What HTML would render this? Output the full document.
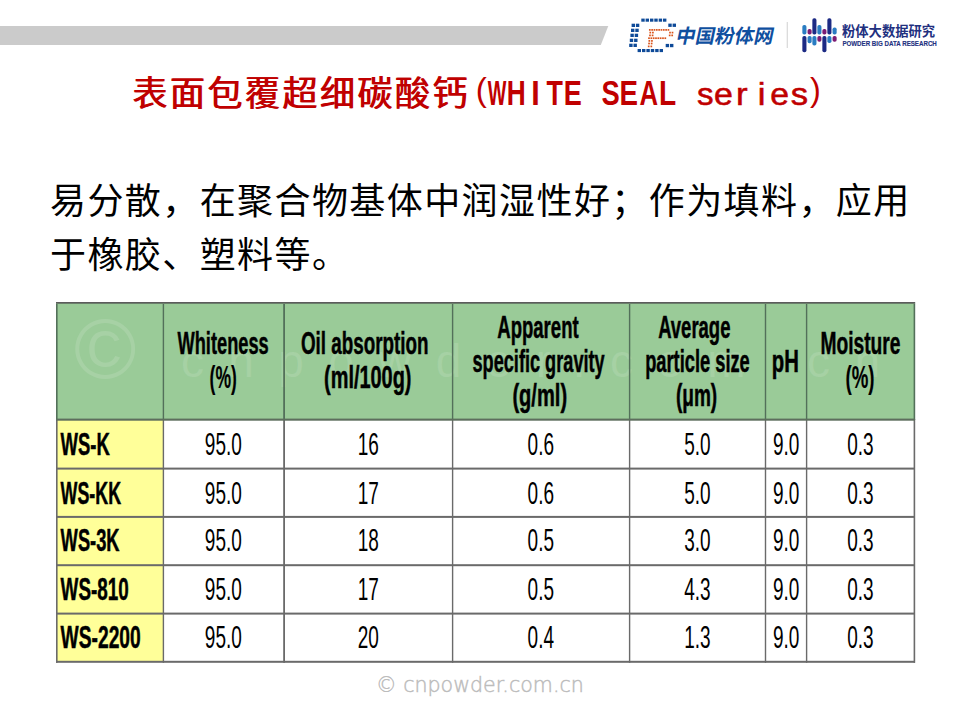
<!DOCTYPE html>
<html lang="zh-CN">
<head>
<meta charset="utf-8">
<title>表面包覆超细碳酸钙(WHITE SEAL series)</title>
<style>
html,body{margin:0;padding:0;background:#fff;}
body{width:960px;height:720px;overflow:hidden;position:relative;}
svg{position:absolute;left:0;top:0;overflow:visible;}
.body{position:absolute;left:50px;top:174.5px;width:900px;font-family:"Liberation Sans","Noto Sans CJK SC",sans-serif;font-size:36px;letter-spacing:1.42px;line-height:54.4px;color:#000;white-space:nowrap;}
.tcjk{position:absolute;left:132px;top:68.67px;font-family:"Liberation Sans","Noto Sans CJK SC",sans-serif;font-size:35px;font-weight:400;letter-spacing:2.5px;line-height:50px;color:#c00000;text-shadow:1.1px 0 0 #c00000;white-space:nowrap;}
.tlat{position:absolute;left:469.15px;top:72.92px;height:40.0px;white-space:nowrap;font-family:"Liberation Sans",sans-serif;font-size:34.86px;font-weight:700;line-height:40.0px;color:#c00000;}
.tlat .g{display:inline-block;width:18.9px;text-align:left;white-space:pre;transform-origin:0 32.08px;}
.tbl text{font-family:"Liberation Sans",Arial,sans-serif;}
</style>
</head>
<body>

<!-- top bar + logos -->
<svg width="960" height="60" viewBox="0 0 960 60">
  <polygon points="0,26 608.3,26 600.8,45 0,45" fill="#cbcbcb"/>
  <rect x="641.3" y="18.6" width="3.4" height="3.1" fill="#0e4a98"/>
  <rect x="645.6" y="18.6" width="3.4" height="3.1" fill="#0e4a98"/>
  <rect x="650.0" y="18.6" width="3.4" height="3.1" fill="#0e4a98"/>
  <rect x="654.3" y="18.6" width="3.4" height="3.1" fill="#0e4a98"/>
  <rect x="658.7" y="18.6" width="3.4" height="3.1" fill="#0e4a98"/>
  <rect x="663.0" y="18.6" width="3.4" height="3.1" fill="#0e4a98"/>
  <rect x="637.6" y="49.0" width="3.4" height="3.1" fill="#0e4a98"/>
  <rect x="642.0" y="49.0" width="3.4" height="3.1" fill="#0e4a98"/>
  <rect x="646.4" y="49.0" width="3.4" height="3.1" fill="#0e4a98"/>
  <rect x="650.8" y="49.0" width="3.4" height="3.1" fill="#0e4a98"/>
  <rect x="655.2" y="49.0" width="3.4" height="3.1" fill="#0e4a98"/>
  <rect x="659.6" y="49.0" width="3.4" height="3.1" fill="#0e4a98"/>
  <rect x="631.6" y="23.7" width="3.4" height="3.3" fill="#0e4a98"/>
  <rect x="635.9" y="23.7" width="3.4" height="3.3" fill="#0e4a98"/>
  <rect x="631.0" y="28.7" width="3.4" height="3.3" fill="#0e4a98"/>
  <rect x="635.3" y="28.7" width="3.4" height="3.3" fill="#0e4a98"/>
  <rect x="630.4" y="33.7" width="3.4" height="3.3" fill="#0e4a98"/>
  <rect x="634.7" y="33.7" width="3.4" height="3.3" fill="#0e4a98"/>
  <rect x="629.8" y="38.7" width="3.4" height="3.3" fill="#0e4a98"/>
  <rect x="634.1" y="38.7" width="3.4" height="3.3" fill="#0e4a98"/>
  <rect x="629.2" y="43.7" width="3.4" height="3.3" fill="#0e4a98"/>
  <rect x="633.5" y="43.7" width="3.4" height="3.3" fill="#0e4a98"/>
  <rect x="668.3" y="23.6" width="3.4" height="3.3" fill="#0e4a98"/>
  <rect x="672.6" y="23.6" width="3.4" height="3.3" fill="#0e4a98"/>
  <rect x="665.7" y="43.9" width="3.4" height="3.3" fill="#0e4a98"/>
  <rect x="670.0" y="43.9" width="3.4" height="3.3" fill="#0e4a98"/>
  <rect x="648.95" y="29.05" width="1.7" height="1.7" fill="#d9531a"/>
  <rect x="651.28" y="29.05" width="1.7" height="1.7" fill="#d9531a"/>
  <rect x="653.61" y="29.05" width="1.7" height="1.7" fill="#d9531a"/>
  <rect x="655.94" y="29.05" width="1.7" height="1.7" fill="#d9531a"/>
  <rect x="658.27" y="29.05" width="1.7" height="1.7" fill="#d9531a"/>
  <rect x="660.60" y="29.05" width="1.7" height="1.7" fill="#d9531a"/>
  <rect x="662.93" y="29.05" width="1.7" height="1.7" fill="#d9531a"/>
  <rect x="665.26" y="29.05" width="1.7" height="1.7" fill="#d9531a"/>
  <rect x="667.59" y="29.05" width="1.7" height="1.7" fill="#d9531a"/>
  <rect x="648.15" y="37.35" width="1.7" height="1.7" fill="#d9531a"/>
  <rect x="650.48" y="37.35" width="1.7" height="1.7" fill="#d9531a"/>
  <rect x="652.81" y="37.35" width="1.7" height="1.7" fill="#d9531a"/>
  <rect x="655.14" y="37.35" width="1.7" height="1.7" fill="#d9531a"/>
  <rect x="657.47" y="37.35" width="1.7" height="1.7" fill="#d9531a"/>
  <rect x="659.80" y="37.35" width="1.7" height="1.7" fill="#d9531a"/>
  <rect x="662.13" y="37.35" width="1.7" height="1.7" fill="#d9531a"/>
  <rect x="664.46" y="37.35" width="1.7" height="1.7" fill="#d9531a"/>
  <rect x="649.45" y="31.75" width="1.7" height="1.7" fill="#d9531a"/>
  <rect x="652.05" y="31.75" width="1.7" height="1.7" fill="#d9531a"/>
  <rect x="649.13" y="34.55" width="1.7" height="1.7" fill="#d9531a"/>
  <rect x="651.73" y="34.55" width="1.7" height="1.7" fill="#d9531a"/>
  <rect x="648.49" y="40.05" width="1.7" height="1.7" fill="#d9531a"/>
  <rect x="651.09" y="40.05" width="1.7" height="1.7" fill="#d9531a"/>
  <rect x="648.19" y="42.65" width="1.7" height="1.7" fill="#d9531a"/>
  <rect x="650.79" y="42.65" width="1.7" height="1.7" fill="#d9531a"/>
  <rect x="647.85" y="45.55" width="1.7" height="1.7" fill="#d9531a"/>
  <rect x="650.45" y="45.55" width="1.7" height="1.7" fill="#d9531a"/>
  <rect x="669.15" y="31.75" width="1.7" height="1.7" fill="#d9531a"/>
  <rect x="671.65" y="31.75" width="1.7" height="1.7" fill="#d9531a"/>
  <rect x="668.83" y="34.55" width="1.7" height="1.7" fill="#d9531a"/>
  <rect x="671.33" y="34.55" width="1.7" height="1.7" fill="#d9531a"/>
  <text x="675" y="43" font-family="Liberation Sans, Noto Sans CJK SC, sans-serif" font-weight="bold" font-size="19.5" fill="#0f4f9f" transform="translate(675,43) skewX(-12) translate(-675,-43)">中国粉体网</text>
  <line x1="787.3" y1="22" x2="787.3" y2="48" stroke="#d8d8d8" stroke-width="1.2"/>
  <rect x="802.35" y="25" width="4.1" height="9.5" rx="1.8" fill="#2a7cc2"/>
  <rect x="802.35" y="36.0" width="4.1" height="16.2" rx="1.8" fill="#1c2a84"/>
  <rect x="807.55" y="28.9" width="4.1" height="5.6" rx="1.8" fill="#7c1c74"/>
  <rect x="807.55" y="36.0" width="4.1" height="7.3" rx="1.8" fill="#2a7cc2"/>
  <rect x="812.35" y="18.3" width="4.1" height="16.2" rx="1.8" fill="#1c2a84"/>
  <rect x="812.35" y="36.0" width="4.1" height="9.6" rx="1.8" fill="#2a7cc2"/>
  <rect x="817.35" y="25" width="4.1" height="9.5" rx="1.8" fill="#2a7cc2"/>
  <rect x="817.35" y="36.0" width="4.1" height="5.7" rx="1.8" fill="#7c1c74"/>
  <rect x="822.35" y="28.9" width="4.1" height="5.6" rx="1.8" fill="#7c1c74"/>
  <rect x="822.35" y="36.0" width="4.1" height="16.2" rx="1.8" fill="#1c2a84"/>
  <rect x="827.35" y="18.3" width="4.1" height="16.2" rx="1.8" fill="#1c2a84"/>
  <rect x="827.35" y="36.0" width="4.1" height="7.0" rx="1.8" fill="#2a7cc2"/>
  <rect x="832.55" y="27.5" width="4.1" height="7.0" rx="1.8" fill="#2a7cc2"/>
  <rect x="832.55" y="36.0" width="4.1" height="5.7" rx="1.8" fill="#7c1c74"/>
  <text x="842" y="36.3" font-family="Liberation Sans, Noto Sans CJK SC, sans-serif" font-weight="bold" font-size="13.3" fill="#22307f">粉体大数据研究</text>
  <text x="842.4" y="46.4" font-family="Liberation Sans, sans-serif" font-weight="bold" font-size="6.5" fill="#22307f" stroke="#22307f" stroke-width="0.12" textLength="94.4" lengthAdjust="spacingAndGlyphs">POWDER BIG DATA RESEARCH</text>
</svg>

<div class="tcjk">表面包覆超细碳酸钙</div>
<div class="tlat"><span class="g" style="font-weight:400;font-size:33.19px;transform-origin:0 31.50px;transform:translate(6.53px,-3.57px) scale(1.000,1)">(</span><span class="g" style="transform:translateX(-0.25px) scale(0.565,1.000)">W</span><span class="g" style="transform:translateX(-0.33px) scale(0.755,1.000)">H</span><span class="g" style="transform:translateX(5.21px) scale(0.879,1.000)">I</span><span class="g" style="transform:translateX(1.58px) scale(0.770,1.000)">T</span><span class="g" style="transform:translateX(-0.27px) scale(0.775,1.000)">E</span><span class="g sp"> </span><span class="g" style="transform:translateX(0.40px) scale(0.785,1.000)">S</span><span class="g" style="transform:translateX(-0.41px) scale(0.795,1.000)">E</span><span class="g" style="transform:translateX(0.54px) scale(0.738,1.000)">A</span><span class="g" style="transform:translateX(1.06px) scale(0.807,1.000)">L</span><span class="g sp"> </span><span class="g" style="font-weight:400;-webkit-text-stroke:0.6px #c00000;transform:translateX(1.09px) scale(0.950,0.887)">s</span><span class="g" style="font-weight:400;-webkit-text-stroke:0.6px #c00000;transform:translateX(-0.91px) scale(0.974,0.887)">e</span><span class="g" style="font-weight:400;-webkit-text-stroke:0.6px #c00000;transform:translateX(2.38px) scale(1.000,0.887)">r</span><span class="g" style="font-weight:400;-webkit-text-stroke:0.6px #c00000;transform:translateX(5.27px) scale(1.000,0.887)">i</span><span class="g" style="font-weight:400;-webkit-text-stroke:0.6px #c00000;transform:translateX(-0.70px) scale(0.968,0.887)">e</span><span class="g" style="font-weight:400;-webkit-text-stroke:0.6px #c00000;transform:translateX(0.66px) scale(0.995,0.887)">s</span><span class="g" style="font-weight:400;font-size:32.45px;transform-origin:0 31.24px;transform:translate(0.81px,-3.91px) scale(1.000,1)">)</span></div>

<div class="body">易分散，在聚合物基体中润湿性好；作为填料，应用<br>于橡胶、塑料等。</div>

<!-- table -->
<svg class="tbl" width="960" height="720" viewBox="0 0 960 720">
  <rect x="56" y="302" width="859" height="118" fill="#9acb98"/>
  <rect x="56" y="419" width="108" height="243" fill="#ffff99"/>
  <g fill="#ffffff" fill-opacity="0.13" font-family="DejaVu Sans, sans-serif" font-weight="200"><text x="73.9" y="377.9" font-size="84.7">&#169;</text><text x="181" y="377" font-size="46" textLength="699" lengthAdjust="spacing">cnpowder.com.cn</text></g>
  <rect x="56" y="302" width="1.6" height="118" fill="#53705a"/>
  <rect x="56" y="419" width="1.6" height="243.8" fill="#6a6a6a"/>
  <rect x="162.7" y="302" width="1.4" height="118" fill="#53705a"/>
  <rect x="162.7" y="419" width="1.4" height="243.8" fill="#6a6a6a"/>
  <rect x="283.2" y="302" width="1.8" height="118" fill="#53705a"/>
  <rect x="283.2" y="419" width="1.8" height="243.8" fill="#6a6a6a"/>
  <rect x="451.9" y="302" width="1.4" height="118" fill="#53705a"/>
  <rect x="451.9" y="419" width="1.4" height="243.8" fill="#6a6a6a"/>
  <rect x="628.9" y="302" width="1.4" height="118" fill="#53705a"/>
  <rect x="628.9" y="419" width="1.4" height="243.8" fill="#6a6a6a"/>
  <rect x="764.8" y="302" width="1.4" height="118" fill="#53705a"/>
  <rect x="764.8" y="419" width="1.4" height="243.8" fill="#6a6a6a"/>
  <rect x="805.9" y="302" width="1.4" height="118" fill="#53705a"/>
  <rect x="805.9" y="419" width="1.4" height="243.8" fill="#6a6a6a"/>
  <rect x="913.6" y="302" width="1.6" height="118" fill="#53705a"/>
  <rect x="913.6" y="419" width="1.6" height="243.8" fill="#6a6a6a"/>
  <rect x="56" y="302" width="859" height="1" fill="#5c5c5c"/>
  <rect x="56" y="303" width="859" height="1" fill="#6b7f6b"/>
  <rect x="56" y="418.6" width="859" height="2.1" fill="#5d6e5d"/>
  <rect x="56" y="467.6" width="859" height="2.0" fill="#6a6a6a"/>
  <rect x="56" y="515.9" width="859" height="2.0" fill="#6a6a6a"/>
  <rect x="56" y="564.2" width="859" height="2.0" fill="#6a6a6a"/>
  <rect x="56" y="612.6" width="859" height="2.0" fill="#6a6a6a"/>
  <rect x="56" y="660.8" width="859" height="2.0" fill="#6a6a6a"/>
  <text transform="translate(223.12,354.0) scale(0.961,1.64)" text-anchor="middle" font-size="19.0" font-weight="bold" stroke="#000" stroke-width="0.3" fill="#000">Whiteness</text>
  <text transform="translate(223.20,388.3) scale(0.921,1.64)" text-anchor="middle" font-size="19.0" font-weight="bold" stroke="#000" stroke-width="0.1" fill="#000">(%)</text>
  <text transform="translate(364.70,353.6) scale(0.991,1.64)" text-anchor="middle" font-size="19.0" font-weight="bold" stroke="#000" stroke-width="0.3" fill="#000">Oil absorption</text>
  <text transform="translate(367.75,387.9) scale(1.048,1.64)" text-anchor="middle" font-size="19.0" font-weight="bold" stroke="#000" stroke-width="0.3" fill="#000">(ml/100g)</text>
  <text transform="translate(537.95,337.8) scale(0.977,1.64)" text-anchor="middle" font-size="19.0" font-weight="bold" stroke="#000" stroke-width="0.3" fill="#000">Apparent</text>
  <text transform="translate(538.55,371.6) scale(0.956,1.64)" text-anchor="middle" font-size="19.0" font-weight="bold" stroke="#000" stroke-width="0.3" fill="#000">specific gravity</text>
  <text transform="translate(539.75,405.6) scale(1.058,1.64)" text-anchor="middle" font-size="19.0" font-weight="bold" stroke="#000" stroke-width="0.3" fill="#000">(g/ml)</text>
  <text transform="translate(694.30,337.8) scale(0.973,1.64)" text-anchor="middle" font-size="19.0" font-weight="bold" stroke="#000" stroke-width="0.3" fill="#000">Average</text>
  <text transform="translate(697.45,371.6) scale(0.962,1.64)" text-anchor="middle" font-size="19.0" font-weight="bold" stroke="#000" stroke-width="0.3" fill="#000">particle size</text>
  <text transform="translate(696.55,405.6) scale(1.003,1.64)" text-anchor="middle" font-size="19.0" font-weight="bold" stroke="#000" stroke-width="0.3" fill="#000">(&#956;m)</text>
  <text transform="translate(785.40,371.6) scale(1.070,1.64)" text-anchor="middle" font-size="19.0" font-weight="bold" stroke="#000" stroke-width="0.3" fill="#000">pH</text>
  <text transform="translate(860.45,354.1) scale(1.012,1.64)" text-anchor="middle" font-size="19.0" font-weight="bold" stroke="#000" stroke-width="0.3" fill="#000">Moisture</text>
  <text transform="translate(860.05,388.3) scale(0.982,1.64)" text-anchor="middle" font-size="19.0" font-weight="bold" stroke="#000" stroke-width="0.1" fill="#000">(%)</text>
  <text transform="translate(60.60,455.3) scale(0.972,1.64)" text-anchor="start" font-size="19.0" font-weight="bold" stroke="#000" stroke-width="0.3" fill="#000">WS-K</text>
  <text transform="translate(223.30,455.3) scale(1.000,1.64)" text-anchor="middle" font-size="19.0" fill="#000">95.0</text>
  <text transform="translate(368.20,455.3) scale(1.000,1.64)" text-anchor="middle" font-size="19.0" fill="#000">16</text>
  <text transform="translate(540.80,455.3) scale(1.000,1.64)" text-anchor="middle" font-size="19.0" fill="#000">0.6</text>
  <text transform="translate(697.40,455.3) scale(1.000,1.64)" text-anchor="middle" font-size="19.0" fill="#000">5.0</text>
  <text transform="translate(786.10,455.3) scale(1.000,1.64)" text-anchor="middle" font-size="19.0" fill="#000">9.0</text>
  <text transform="translate(860.40,455.3) scale(1.000,1.64)" text-anchor="middle" font-size="19.0" fill="#000">0.3</text>
  <text transform="translate(60.60,503.5) scale(0.940,1.64)" text-anchor="start" font-size="19.0" font-weight="bold" stroke="#000" stroke-width="0.3" fill="#000">WS-KK</text>
  <text transform="translate(223.30,503.5) scale(1.000,1.64)" text-anchor="middle" font-size="19.0" fill="#000">95.0</text>
  <text transform="translate(368.20,503.5) scale(1.000,1.64)" text-anchor="middle" font-size="19.0" fill="#000">17</text>
  <text transform="translate(540.80,503.5) scale(1.000,1.64)" text-anchor="middle" font-size="19.0" fill="#000">0.6</text>
  <text transform="translate(697.40,503.5) scale(1.000,1.64)" text-anchor="middle" font-size="19.0" fill="#000">5.0</text>
  <text transform="translate(786.10,503.5) scale(1.000,1.64)" text-anchor="middle" font-size="19.0" fill="#000">9.0</text>
  <text transform="translate(860.40,503.5) scale(1.000,1.64)" text-anchor="middle" font-size="19.0" fill="#000">0.3</text>
  <text transform="translate(60.60,551.4) scale(0.964,1.64)" text-anchor="start" font-size="19.0" font-weight="bold" stroke="#000" stroke-width="0.3" fill="#000">WS-3K</text>
  <text transform="translate(223.30,551.4) scale(1.000,1.64)" text-anchor="middle" font-size="19.0" fill="#000">95.0</text>
  <text transform="translate(368.20,551.4) scale(1.000,1.64)" text-anchor="middle" font-size="19.0" fill="#000">18</text>
  <text transform="translate(540.80,551.4) scale(1.000,1.64)" text-anchor="middle" font-size="19.0" fill="#000">0.5</text>
  <text transform="translate(697.40,551.4) scale(1.000,1.64)" text-anchor="middle" font-size="19.0" fill="#000">3.0</text>
  <text transform="translate(786.10,551.4) scale(1.000,1.64)" text-anchor="middle" font-size="19.0" fill="#000">9.0</text>
  <text transform="translate(860.40,551.4) scale(1.000,1.64)" text-anchor="middle" font-size="19.0" fill="#000">0.3</text>
  <text transform="translate(60.60,599.7) scale(0.993,1.64)" text-anchor="start" font-size="19.0" font-weight="bold" stroke="#000" stroke-width="0.3" fill="#000">WS-810</text>
  <text transform="translate(223.30,599.7) scale(1.000,1.64)" text-anchor="middle" font-size="19.0" fill="#000">95.0</text>
  <text transform="translate(368.20,599.7) scale(1.000,1.64)" text-anchor="middle" font-size="19.0" fill="#000">17</text>
  <text transform="translate(540.80,599.7) scale(1.000,1.64)" text-anchor="middle" font-size="19.0" fill="#000">0.5</text>
  <text transform="translate(697.40,599.7) scale(1.000,1.64)" text-anchor="middle" font-size="19.0" fill="#000">4.3</text>
  <text transform="translate(786.10,599.7) scale(1.000,1.64)" text-anchor="middle" font-size="19.0" fill="#000">9.0</text>
  <text transform="translate(860.40,599.7) scale(1.000,1.64)" text-anchor="middle" font-size="19.0" fill="#000">0.3</text>
  <text transform="translate(60.60,648.2) scale(1.013,1.64)" text-anchor="start" font-size="19.0" font-weight="bold" stroke="#000" stroke-width="0.3" fill="#000">WS-2200</text>
  <text transform="translate(223.30,648.2) scale(1.000,1.64)" text-anchor="middle" font-size="19.0" fill="#000">95.0</text>
  <text transform="translate(368.20,648.2) scale(1.000,1.64)" text-anchor="middle" font-size="19.0" fill="#000">20</text>
  <text transform="translate(540.80,648.2) scale(1.000,1.64)" text-anchor="middle" font-size="19.0" fill="#000">0.4</text>
  <text transform="translate(697.40,648.2) scale(1.000,1.64)" text-anchor="middle" font-size="19.0" fill="#000">1.3</text>
  <text transform="translate(786.10,648.2) scale(1.000,1.64)" text-anchor="middle" font-size="19.0" fill="#000">9.0</text>
  <text transform="translate(860.40,648.2) scale(1.000,1.64)" text-anchor="middle" font-size="19.0" fill="#000">0.3</text>
</svg>

<svg width="960" height="720" viewBox="0 0 960 720"><text x="376" y="692" font-family="DejaVu Sans, sans-serif" font-weight="200" font-size="20.6" fill="#bcbcbc" stroke="#bcbcbc" stroke-width="0.45">© cnpowder.com.cn</text></svg>
</body>
</html>
